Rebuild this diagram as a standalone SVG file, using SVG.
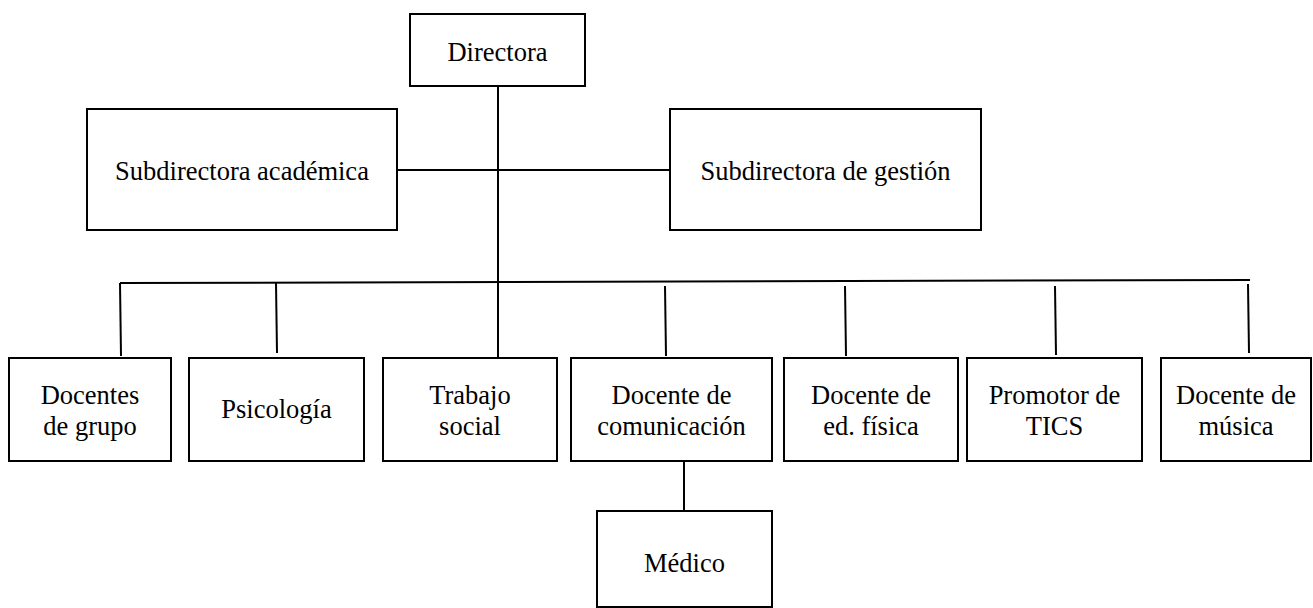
<svg xmlns="http://www.w3.org/2000/svg" width="1313" height="608" viewBox="0 0 1313 608">
<style>
rect{fill:#fff;stroke:#000;stroke-width:2}
line{stroke:#000;stroke-width:2}
text{font-family:'Liberation Serif',serif;font-size:26.5px;fill:#000;text-anchor:middle}
</style>
<rect x="0" y="0" width="1313" height="608" style="stroke:none"/>
<g id="connectors">
<line x1="498" y1="86" x2="498" y2="358"/>
<line x1="397" y1="170" x2="670" y2="170"/>
<line x1="120" y1="283" x2="1250" y2="280"/>
<line x1="120" y1="283" x2="121" y2="356"/>
<line x1="276" y1="283" x2="277" y2="353"/>
<line x1="665" y1="286" x2="666" y2="356"/>
<line x1="845" y1="286" x2="846" y2="356"/>
<line x1="1055" y1="286" x2="1056" y2="355"/>
<line x1="1248" y1="284" x2="1249" y2="353"/>
<line x1="684" y1="461" x2="684" y2="511"/>
</g>
<g font-family="Liberation Serif, serif">
<g id="directora"><rect x="410" y="14" width="175" height="72"/><text x="497.5" y="61">Directora</text></g>
<g id="subdir-academica"><rect x="87" y="109" width="310" height="121"/><text x="242" y="180">Subdirectora académica</text></g>
<g id="subdir-gestion"><rect x="670" y="109" width="311" height="121"/><text x="825.5" y="180">Subdirectora de gestión</text></g>
<g id="docentes-grupo"><rect x="9" y="358" width="162" height="103"/><text x="90" y="404">Docentes</text><text x="90" y="435">de grupo</text></g>
<g id="psicologia"><rect x="189" y="358" width="175" height="103"/><text x="276.5" y="418">Psicología</text></g>
<g id="trabajo-social"><rect x="383" y="358" width="174" height="103"/><text x="470" y="404">Trabajo</text><text x="470" y="435">social</text></g>
<g id="docente-comunicacion"><rect x="571" y="358" width="201" height="103"/><text x="671.5" y="404">Docente de</text><text x="671.5" y="435">comunicación</text></g>
<g id="docente-edfisica"><rect x="784" y="358" width="174" height="103"/><text x="871" y="404">Docente de</text><text x="871" y="435">ed. física</text></g>
<g id="promotor-tics"><rect x="967" y="358" width="175" height="103"/><text x="1054.5" y="404">Promotor de</text><text x="1054.5" y="435">TICS</text></g>
<g id="docente-musica"><rect x="1161" y="358" width="150" height="103"/><text x="1236" y="404">Docente de</text><text x="1236" y="435">música</text></g>
<g id="medico"><rect x="597" y="511" width="175" height="96"/><text x="684.5" y="572">Médico</text></g>
</g>
</svg>
